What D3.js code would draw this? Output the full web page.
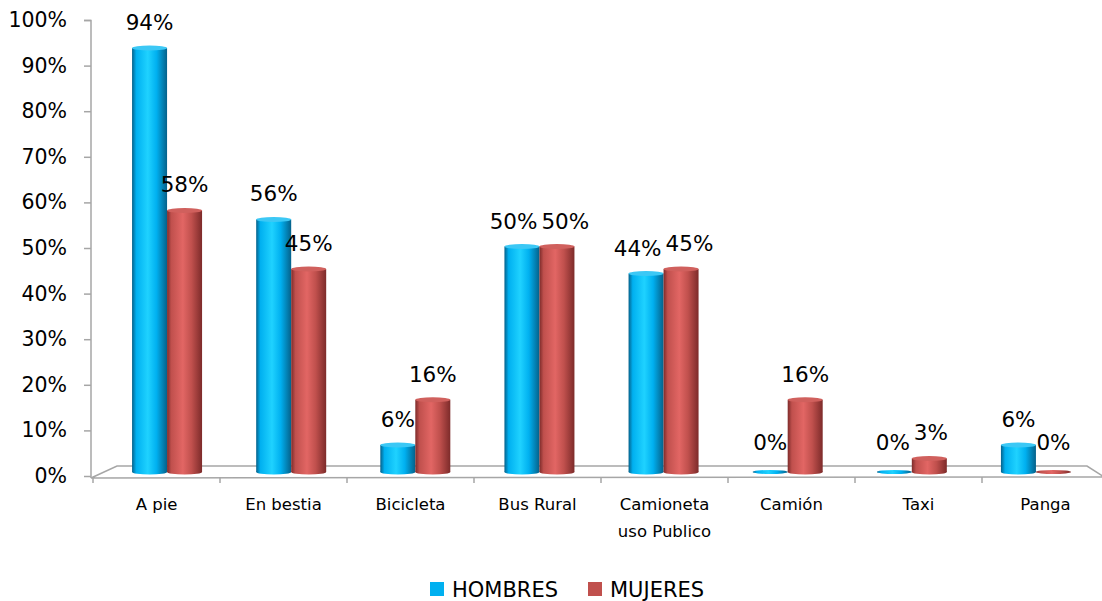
<!DOCTYPE html>
<html>
<head>
<meta charset="utf-8">
<script src="https://cdnjs.cloudflare.com/ajax/libs/d3/7.8.5/d3.min.js"></script>
<style>
  body { margin: 0; background: #fff; }
  text { font-family: "DejaVu Sans", sans-serif; fill: #000; }
</style>
</head>
<body>
<div id="chart"></div>
<script>
var width = 1102,
    height = 601;

// datos
var categorias = ["A pie", "En bestia", "Bicicleta", "Bus Rural", "Camioneta uso Publico", "Camión", "Taxi", "Panga"];
var series = ["HOMBRES", "MUJERES"];
var hombres = [94, 56, 6, 50, 44, 0, 0, 6];
var mujeres = [58, 45, 16, 50, 45, 16, 3, 0];
var yTicks = [0, 10, 20, 30, 40, 50, 60, 70, 80, 90, 100];

var colors = {
  'HOMBRES': { base: '#00b0f0', dark: '#05618a', light: '#1fd2ff', top: '#3cc8f5' },
  'MUJERES': { base: '#c0504d', dark: '#7d2b2a', light: '#e26664', top: '#d0605d' }
};

var rows = categorias.map(function(c, i){
  return { cat: c, values: [ { s: 'HOMBRES', v: hombres[i] }, { s: 'MUJERES', v: mujeres[i] } ] };
});

var svg = d3.select("#chart").append("svg")
  .attr("width", width)
  .attr("height", height);

var defs = svg.append("defs");
series.forEach(function(s, i){
  var g = defs.append("linearGradient")
    .attr("id", "grad" + i)
    .attr("x1", "0%").attr("x2", "100%").attr("y1", "0%").attr("y2", "0%");
  g.append("stop").attr("offset", "0%").attr("stop-color", colors[s].dark);
  g.append("stop").attr("offset", "12%").attr("stop-color", colors[s].base);
  g.append("stop").attr("offset", "45%").attr("stop-color", colors[s].light);
  g.append("stop").attr("offset", "70%").attr("stop-color", colors[s].base);
  g.append("stop").attr("offset", "100%").attr("stop-color", colors[s].dark);
});

// scales
var yAxisScale = d3.scaleLinear().domain([0, 100]).range([476, 20]);
var yBar = d3.scaleLinear().domain([0, 100]).range([472, 21]);   // fondo en perspectiva
var xFront = d3.scaleBand().domain(categorias).range([93, 1109]);
var xBack = d3.scaleBand().domain(categorias).range([105, 1098]);
var barW = 35;
var xSeries = d3.scaleBand().domain(series).range([-barW, barW]);

// floor (3d)
var floorBack = 466, floorFront = 477;
svg.append("path")
  .attr("d", "M91," + (floorFront + 1) + "L117," + floorBack + "L1087," + floorBack + "L1104," + floorFront + "Z")
  .attr("fill", "#fff")
  .attr("stroke", "#a6a6a6")
  .attr("stroke-width", 1.5);

// x axis ticks on floor front
var xTickPos = categorias.map(function(c){ return xFront(c); }).concat([xFront.range()[1]]);
svg.selectAll(".xtick")
  .data(xTickPos)
  .enter().append("line")
  .attr("class", "xtick")
  .attr("x1", function(d){ return d; })
  .attr("x2", function(d){ return d; })
  .attr("y1", floorFront)
  .attr("y2", floorFront + 6)
  .attr("stroke", "#a6a6a6")
  .attr("stroke-width", 1.5);

// y axis
var yAxis = d3.axisLeft(yAxisScale)
  .tickValues(yTicks)
  .tickSize(7)
  .tickPadding(17)
  .tickFormat(function(d){ return d + "%"; });

var gy = svg.append("g")
  .attr("transform", "translate(91,0)")
  .call(yAxis);
gy.select(".domain").attr("stroke", "#a6a6a6").attr("stroke-width", 1.5)
  .attr("d", "M-7,20.5H0V478");
gy.selectAll(".tick line").attr("stroke", "#a6a6a6").attr("stroke-width", 1.5);
gy.selectAll(".tick text")
  .style("font-size", "20.5px")
  .style("font-family", "'DejaVu Sans', sans-serif")
  .attr("fill", "#000");

// bars (cilindros)
var ry = 2.5;
var groups = svg.selectAll(".cat")
  .data(rows)
  .enter().append("g")
  .attr("class", "cat")
  .attr("transform", function(d){ return "translate(" + (xBack(d.cat) + xBack.bandwidth() / 2) + ",0)"; });

var bars = groups.selectAll(".bar")
  .data(function(d){ return d.values; })
  .enter().append("g")
  .attr("class", "bar");

bars.each(function(d, i){
  var g = d3.select(this);
  var x0 = xSeries(d.s);
  var bw = xSeries.bandwidth();
  var top = yBar(d.v);
  var bottom = yBar(0);
  var fill = "url(#grad" + i + ")";
  if (d.v > 0) {
    g.append("ellipse")
      .attr("cx", x0 + bw / 2).attr("cy", bottom)
      .attr("rx", bw / 2).attr("ry", ry)
      .attr("fill", fill);
    g.append("rect")
      .attr("x", x0).attr("y", top)
      .attr("width", bw).attr("height", bottom - top)
      .attr("fill", fill);
    g.append("ellipse")
      .attr("cx", x0 + bw / 2).attr("cy", top)
      .attr("rx", bw / 2).attr("ry", ry)
      .attr("fill", colors[d.s].top);
  } else {
    g.append("ellipse")
      .attr("cx", x0 + bw / 2).attr("cy", bottom)
      .attr("rx", bw / 2).attr("ry", 2)
      .attr("fill", fill);
  }
});

// value labels
var labels = bars.append("text")
  .attr("class", "vlabel")
  .attr("x", function(d){ return xSeries(d.s) + xSeries.bandwidth() / 2; })
  .attr("y", function(d){ return yBar(d.v) - (d.v > 0 ? 18 : 22); })
  .attr("text-anchor", "middle")
  .style("font-size", "21.5px")
  .text(function(d){ return d.v + "%"; });

// separar etiquetas que se superponen
groups.each(function(){
  var t = d3.select(this).selectAll(".vlabel").nodes();
  if (t.length < 2) return;
  var a = d3.select(t[0]), b = d3.select(t[1]);
  var wa = t[0].getComputedTextLength(), wb = t[1].getComputedTextLength();
  var xa = +a.attr("x"), xb = +b.attr("x");
  var ya = +a.attr("y"), yb = +b.attr("y");
  var need = (wa + wb) / 2 + 4;
  if (Math.abs(ya - yb) < 20 && xb - xa < need) {
    var shift = (need - (xb - xa)) / 2;
    a.attr("x", xa - shift);
    b.attr("x", xb + shift);
  }
});

// category labels
var catLabels = svg.selectAll(".clabel")
  .data(categorias)
  .enter().append("text")
  .attr("class", "clabel")
  .attr("x", function(d){ return xFront(d) + xFront.bandwidth() / 2; })
  .attr("y", 510)
  .attr("text-anchor", "middle")
  .style("font-size", "16.5px");

catLabels.each(function(d){
  var el = d3.select(this);
  var lines = d == "Camioneta uso Publico" ? ["Camioneta", "uso Publico"] : [d];
  lines.forEach(function(l, i){
    el.append("tspan")
      .attr("x", el.attr("x"))
      .attr("dy", i == 0 ? 0 : 27)
      .text(l);
  });
});

// legend
var legend = svg.append("g").attr("class", "legend");
var legendX = [430, 588];
series.forEach(function(s, i){
  legend.append("rect")
    .attr("x", legendX[i]).attr("y", 582)
    .attr("width", 14).attr("height", 14)
    .attr("fill", colors[s].base);
  legend.append("text")
    .attr("x", legendX[i] + 22).attr("y", 597)
    .style("font-size", "21px")
    .text(s);
});
</script>
</body>
</html>
